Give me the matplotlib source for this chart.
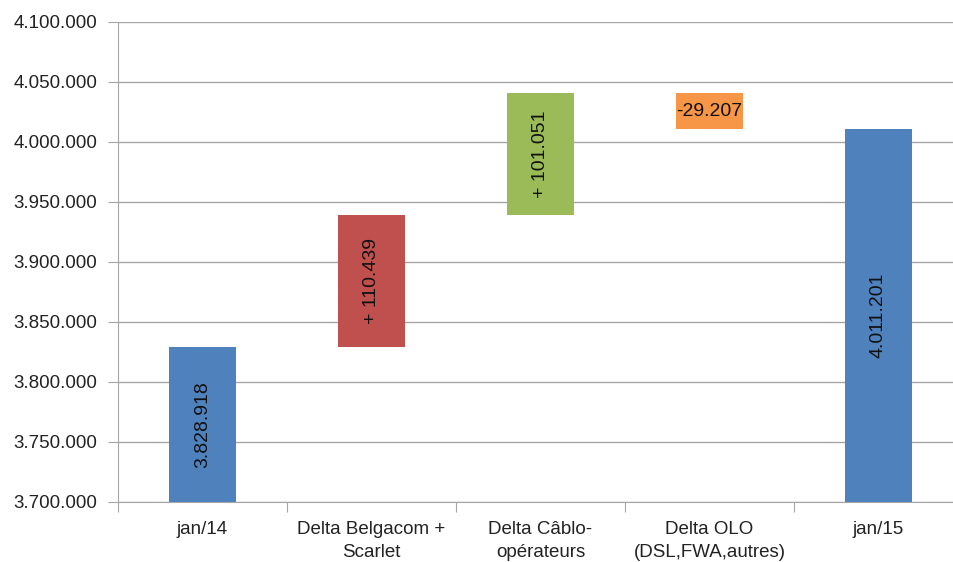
import numpy as np
import matplotlib.pyplot as plt

# Data
categories = ['jan/14', 'Delta Belgacom +\nScarlet', 'Delta Câblo-\nopérateurs',
              'Delta OLO\n(DSL,FWA,autres)', 'jan/15']
start_value = 3828918
deltas = [110439, 101051, -29207]
end_value = 4011201
labels = ['3.828.918', '+ 110.439', '+ 101.051', '-29.207', '4.011.201']
colors = ['#4F81BD', '#C0504D', '#9BBB59', '#F79646', '#4F81BD']

# waterfall geometry from the values
levels = np.cumsum([start_value] + deltas)
bottoms = [3700000]
heights = [start_value - 3700000]
for i, d in enumerate(deltas):
    lo = min(levels[i], levels[i + 1])
    bottoms.append(lo)
    heights.append(abs(d))
bottoms.append(3700000)
heights.append(end_value - 3700000)

plt.rcParams['font.family'] = ['Liberation Sans', 'DejaVu Sans']

fig = plt.figure(figsize=(9.54, 5.62), dpi=100)
ax = fig.add_axes([0.1237, 0.1068, 0.8857, 0.8541])

x = np.arange(len(categories))
ax.bar(x, heights, bottom=bottoms, width=0.4, color=colors, zorder=3)

for i in range(len(x)):
    mid = bottoms[i] + heights[i] / 2
    rot = 0 if i == 3 else 90
    ax.text(x[i], mid, labels[i], rotation=rot, ha='center', va='center',
            fontsize=14, color='#111111', zorder=4)

ax.set_ylim(3700000, 4100000)
ax.set_xlim(-0.5, 4.5)
yt = np.arange(3700000, 4100001, 50000)
ax.set_yticks(yt)
ax.set_yticklabels([f'{v:,}'.replace(',', '.') for v in yt], fontsize=13.5, color='#222222')
ax.yaxis.grid(True, color='#A6A6A6', linewidth=1, zorder=0)

ax.set_xticks(np.arange(-0.5, 4.6, 1))
ax.set_xticklabels([])
ax.set_xticks(x, minor=True)
ax.set_xticklabels(categories, minor=True, fontsize=13.5, color='#222222', linespacing=1.45)
ax.tick_params(axis='x', which='minor', length=0, pad=14)
ax.tick_params(axis='x', which='major', length=7, color='#A6A6A6', direction='out')
ax.tick_params(axis='y', length=7, color='#A6A6A6', pad=8)

for s in ['top', 'right']:
    ax.spines[s].set_visible(False)
ax.spines['left'].set_color('#A6A6A6')
ax.spines['bottom'].set_color('#A6A6A6')

plt.savefig('out.png', dpi=100)
